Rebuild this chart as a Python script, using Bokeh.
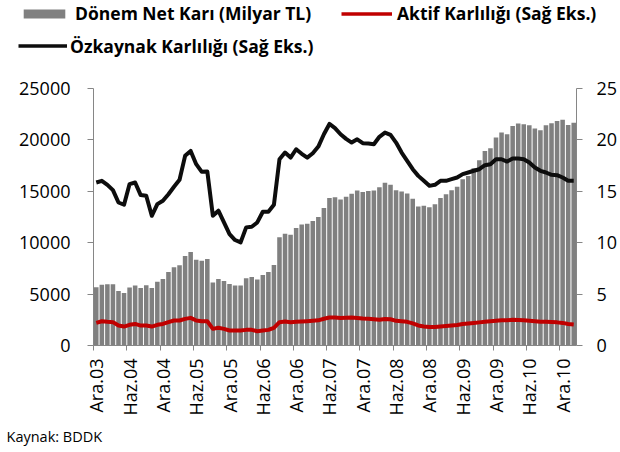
import math
from bokeh.plotting import figure
from bokeh.layouts import column
from bokeh.models import (Range1d, LinearAxis, FixedTicker, Legend, LegendItem,
                          Title, ColumnDataSource)
from bokeh.embed import file_html
from bokeh.resources import INLINE

# ---- data (monthly, Ara.03 .. Şub.11) ----
month_names = ["Oca", "Şub", "Mar", "Nis", "May", "Haz", "Tem", "Ağu", "Eyl", "Eki", "Kas", "Ara"]
start_year, start_month = 2003, 12
n_months = 87

net_kar = [5660, 5920, 5950, 5950, 5310, 5110, 5630, 5830, 5600, 5860,
           5600, 6210, 6470, 7150, 7610, 7800, 8700, 9090, 8350, 8250,
           8410, 6120, 6470, 6280, 5990, 5830, 5830, 6540, 6670, 6410,
           6860, 7150, 7830, 10520, 10870, 10780, 11420, 11780, 11840, 12100,
           12490, 13370, 14340, 14430, 14210, 14470, 14760, 15080, 14920, 15020,
           15080, 15400, 15830, 15630, 15110, 14980, 14790, 14270, 13530, 13590,
           13460, 13750, 14340, 14720, 15110, 15440, 16180, 16500, 17250, 18030,
           18930, 19190, 20230, 20710, 20550, 21360, 21590, 21520, 21420, 21100,
           20940, 21420, 21620, 21840, 21970, 21460, 21680]

ozkaynak = [15.86, 16.02, 15.63, 15.11, 13.91, 13.69, 15.70, 15.86, 14.63, 14.56,
            12.62, 13.75, 14.08, 14.72, 15.44, 16.12, 18.45, 18.93, 17.64, 16.89,
            16.92, 12.62, 13.11, 11.97, 10.84, 10.26, 10.03, 11.49, 11.55, 11.97,
            13.01, 13.01, 13.69, 18.12, 18.77, 18.28, 19.09, 18.65, 18.28, 18.70,
            19.35, 20.55, 21.55, 21.15, 20.55, 20.10, 19.74, 20.06, 19.68, 19.65,
            19.58, 20.30, 20.71, 20.49, 19.74, 18.77, 17.96, 17.15, 16.50, 16.02,
            15.53, 15.63, 16.02, 16.02, 16.18, 16.34, 16.67, 16.83, 17.00, 17.15,
            17.54, 17.64, 18.12, 18.12, 17.89, 18.19, 18.19, 18.12, 17.80, 17.31,
            16.99, 16.83, 16.60, 16.57, 16.34, 16.02, 16.02]

aktif = [2.20, 2.36, 2.30, 2.27, 1.94, 1.84, 2.01, 2.10, 1.94, 1.94,
         1.84, 2.01, 2.10, 2.27, 2.43, 2.43, 2.59, 2.69, 2.43, 2.36,
         2.36, 1.62, 1.72, 1.62, 1.46, 1.46, 1.46, 1.52, 1.52, 1.39,
         1.46, 1.52, 1.72, 2.27, 2.33, 2.27, 2.30, 2.33, 2.36, 2.40,
         2.45, 2.60, 2.72, 2.72, 2.68, 2.70, 2.72, 2.68, 2.62, 2.60,
         2.55, 2.50, 2.58, 2.55, 2.40, 2.35, 2.30, 2.15, 1.95, 1.85,
         1.80, 1.80, 1.85, 1.90, 1.95, 2.00, 2.10, 2.15, 2.20, 2.25,
         2.30, 2.35, 2.40, 2.45, 2.45, 2.50, 2.48, 2.45, 2.40, 2.35,
         2.30, 2.30, 2.28, 2.25, 2.20, 2.10, 2.05]

tick_labels = ["Ara.03", "Haz.04", "Ara.04", "Haz.05", "Ara.05", "Haz.06", "Ara.06",
               "Haz.07", "Ara.07", "Haz.08", "Ara.08", "Haz.09", "Ara.09", "Haz.10", "Ara.10"]
left_ticks = [0, 5000, 10000, 15000, 20000, 25000]
right_ticks = [0, 5, 10, 15, 20, 25]

# month labels for each category
months = []
for i in range(n_months):
    m = (start_month - 1 + i) % 12
    y = start_year + (start_month - 1 + i) // 12
    months.append(f"{month_names[m]}.{str(y)[2:]}")

x = [i + 0.5 for i in range(n_months)]
src = ColumnDataSource(dict(x=x, month=months, net=net_kar, roe=ozkaynak, roa=aktif))

AX = "#868686"
FONT = "Open Sans"
BAR_C = "#808080"
RED_C = "#C00000"
BLK_C = "#0D0D0D"

# ---------------- main chart ----------------
p = figure(width=620, height=380, output_backend="svg", toolbar_location=None,
           x_range=Range1d(0, n_months), y_range=Range1d(0, 25000),
           min_border_left=93, min_border_right=43, min_border_top=16, min_border_bottom=107)
p.frame_align = False
p.extra_y_ranges = {"pct": Range1d(0, 25)}
p.outline_line_color = None
p.grid.visible = False
p.background_fill_color = "white"

p.vbar(x="x", top="net", width=0.82, source=src, fill_color=BAR_C, line_color=None)
p.line("x", "roa", source=src, y_range_name="pct", line_color=RED_C, line_width=4,
       line_join="round")
p.line("x", "roe", source=src, y_range_name="pct", line_color=BLK_C, line_width=4,
       line_join="round")

# x axis
xa = p.xaxis[0]
label_pos = [6 * k + 0.5 for k in range(len(tick_labels))]
xa.ticker = FixedTicker(ticks=label_pos, minor_ticks=[6 * k for k in range(len(tick_labels))])
xa.major_label_overrides = {pos: lab for pos, lab in zip(label_pos, tick_labels)}
xa.major_label_orientation = math.pi / 2
xa.major_tick_line_color = None
xa.major_tick_out = 0
xa.major_tick_in = 0
xa.minor_tick_line_color = AX
xa.minor_tick_out = 5
xa.minor_tick_in = 0
xa.axis_line_color = AX
xa.major_label_standoff = 8
xa.major_label_text_font = FONT
xa.major_label_text_font_size = "18px"
xa.major_label_text_color = "black"

# left axis
ya = p.yaxis[0]
ya.ticker = FixedTicker(ticks=left_ticks)
ya.axis_line_color = AX
ya.major_tick_line_color = AX
ya.major_tick_out = 6
ya.major_tick_in = 0
ya.minor_tick_line_color = None
ya.major_label_standoff = 17
ya.major_label_text_font = FONT
ya.major_label_text_font_size = "18px"
ya.major_label_text_color = "black"

# right axis
ra = LinearAxis(y_range_name="pct", ticker=FixedTicker(ticks=right_ticks))
ra.axis_line_color = AX
ra.major_tick_line_color = AX
ra.major_tick_out = 6
ra.major_tick_in = 0
ra.minor_tick_line_color = None
ra.major_label_standoff = 14
ra.major_label_text_font = FONT
ra.major_label_text_font_size = "18px"
ra.major_label_text_color = "black"
p.add_layout(ra, "right")

src_title = Title(text="Kaynak: BDDK", align="left", offset=-87, standoff=13,
                  text_font=FONT, text_font_style="normal", text_font_size="14.5px",
                  text_color="black")
p.add_layout(src_title, "below")

# ---------------- legend strip (top) ----------------
lf = figure(width=620, height=72, output_backend="svg", toolbar_location=None,
            x_range=Range1d(0, 1), y_range=Range1d(0, 1),
            x_axis_location=None, y_axis_location=None,
            min_border_left=0, min_border_right=0, min_border_top=0, min_border_bottom=0)
lf.frame_align = False
lf.outline_line_color = None
lf.grid.visible = False

# placeholder renderers (no visible points) that only carry the legend styles
nan = float("nan")
ph = ColumnDataSource(dict(x=[nan], y=[nan]))
r_bar = lf.vbar(x="x", top="y", width=0.5, source=ph, fill_color=BAR_C, line_color=None)
r_red = lf.line("x", "y", source=ph, line_color=RED_C, line_width=3.5)
r_blk = lf.line("x", "y", source=ph, line_color=BLK_C, line_width=3.5)

def mk_legend(item_label, renderer, loc, gw, gh, standoff):
    lg = Legend(items=[LegendItem(label=item_label, renderers=[renderer])],
                location=loc, glyph_width=gw, glyph_height=gh, label_height=gh,
                label_standoff=standoff, padding=0, margin=0, spacing=0,
                border_line_color=None, background_fill_alpha=0,
                label_text_font=FONT, label_text_font_style="bold",
                label_text_font_size="17.5px", label_text_color="black")
    lf.add_layout(lg, "center")

mk_legend("Dönem Net Karı (Milyar TL)", r_bar, (18, 47), 52, 11, 5)
mk_legend("Aktif Karlılığı (Sağ Eks.)", r_red, (341, 47), 51, 11, 5)
mk_legend("Özkaynak Karlılığı (Sağ Eks.)", r_blk, (18, 14.5), 49, 11, 3)

layout = column(lf, p, spacing=0)
open("out.html", "w").write(file_html(layout, INLINE))
